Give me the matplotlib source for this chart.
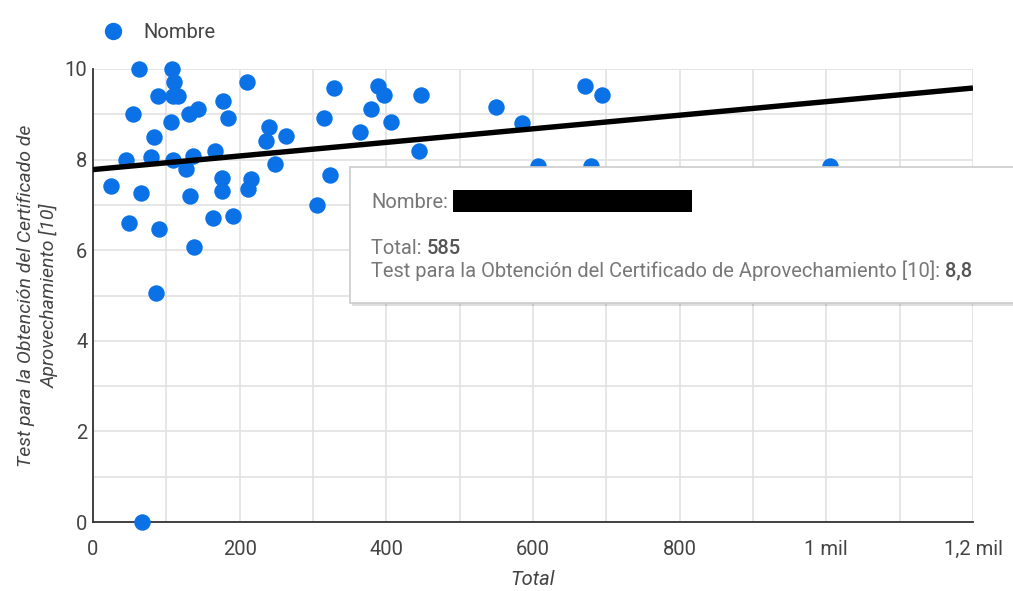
import numpy as np
import matplotlib
matplotlib.use("Agg")
import matplotlib.pyplot as plt
from matplotlib.patches import FancyBboxPatch, Rectangle

plt.rcParams['font.family'] = ['Roboto', 'DejaVu Sans']

# data
total = [24, 45, 49, 54, 63, 65, 67, 79, 83, 86, 89, 90, 106, 108, 109, 110,
         109, 116, 127, 131, 132, 136, 138, 143, 164, 166, 176, 176, 177, 184,
         191, 210, 211, 216, 236, 240, 248, 263, 306, 315, 323, 329, 364, 379,
         388, 397, 407, 445, 447, 549, 585, 607, 671, 679, 694, 1005]
test = [7.41, 8.0, 6.6, 9.0, 10.0, 7.26, 0.0, 8.05, 8.5, 5.05, 9.41, 6.46,
        8.83, 10.0, 8.0, 9.72, 9.41, 9.41, 7.8, 9.0, 7.2, 8.07, 6.06, 9.12,
        6.7, 8.2, 7.6, 7.3, 9.3, 8.92, 6.75, 9.72, 7.35, 7.57, 8.41, 8.72,
        7.91, 8.51, 7.0, 8.91, 7.66, 9.57, 8.62, 9.12, 9.63, 9.42, 8.82, 8.19,
        9.43, 9.17, 8.8, 7.85, 9.63, 7.85, 9.42, 7.85]

# trendline end points as drawn
trend_x = [0, 1200]
trend_y = [7.78, 9.58]

xticks = [0, 200, 400, 600, 800, 1000, 1200]
xtick_labels = ['0', '200', '400', '600', '800', '1 mil', '1,2 mil']
yticks = [0, 2, 4, 6, 8, 10]

W, H = 1013, 591
BLUE = '#0a72e6'
GREY = '#444444'
FS = 14.5

fig = plt.figure(figsize=(W / 100, H / 100), dpi=100)
ax = fig.add_axes([93 / W, 1 - 522 / H, (973 - 93) / W, (522 - 69) / H])

ax.set_xlim(0, 1200)
ax.set_ylim(0, 10)
ax.set_xticks(xticks)
ax.set_xticklabels(xtick_labels)
ax.set_yticks(yticks)
ax.set_xticks(np.arange(0, 1201, 100), minor=True)
ax.set_yticks(np.arange(0, 11, 1), minor=True)
ax.grid(True, which='both', color='#e2e2e2', lw=1.2)
ax.set_axisbelow(True)
ax.tick_params(which='both', length=0, labelsize=FS, colors=GREY)
ax.tick_params(axis='x', pad=13)
ax.tick_params(axis='y', pad=4)
for s in ['top', 'right']:
    ax.spines[s].set_visible(False)
ax.spines['left'].set_color('#333333')
ax.spines['bottom'].set_color('#333333')
ax.spines['left'].set_linewidth(1.3)
ax.spines['bottom'].set_linewidth(1.3)

ax.scatter(total, test, s=140, color=BLUE, zorder=3, clip_on=False, lw=0)
ax.plot(trend_x, trend_y, color='black', lw=3.9, zorder=4, solid_capstyle='butt')

ax.set_xlabel('Total', fontstyle='italic', fontsize=FS, color=GREY, labelpad=8)
ax.set_ylabel('Test para la Obtención del Certificado de\nAprovechamiento [10]',
              fontstyle='italic', fontsize=14, color=GREY, labelpad=4,
              linespacing=1.35)

# legend
fig.lines.append(plt.Line2D([113 / W], [1 - 31 / H], marker='o', ms=11.5,
                            color=BLUE, transform=fig.transFigure, lw=0))
fig.text(143 / W, 1 - 32 / H, 'Nombre', fontsize=FS, color=GREY, va='center')

# tooltip
def fx(px):
    return px / W

def fy(py):
    return 1 - py / H

shadow = FancyBboxPatch((fx(352), fy(306)), fx(1100) - fx(352), fy(169) - fy(306),
                        boxstyle='square,pad=0', transform=fig.transFigure,
                        facecolor='#00000022', edgecolor='none', zorder=9)
box = FancyBboxPatch((fx(350), fy(303)), fx(1100) - fx(350), fy(167) - fy(303),
                     boxstyle='square,pad=0', transform=fig.transFigure,
                     facecolor='white', edgecolor='#cccccc', lw=1.2, zorder=10)
fig.patches.extend([shadow, box])
fig.patches.append(Rectangle((fx(453), fy(212)), fx(692) - fx(453), fy(190) - fy(212),
                             transform=fig.transFigure, facecolor='black', zorder=11))

TT = '#777777'
fig.text(fx(371), fy(202), 'Nombre:', fontsize=FS, color=TT, va='center', zorder=12)
renderer = fig.canvas.get_renderer()

def two_part(x, y, a, b):
    t1 = fig.text(fx(x), fy(y), a, fontsize=FS, color=TT, va='center', zorder=12)
    bb = t1.get_window_extent(renderer)
    fig.text(bb.x1 / W, fy(y), b, fontsize=FS, color='#555555', va='center',
             fontweight='medium', zorder=12)

two_part(371, 248, 'Total: ', '585')
two_part(371, 271, 'Test para la Obtención del Certificado de Aprovechamiento [10]: ', '8,8')

fig.savefig('out.png', dpi=100)
